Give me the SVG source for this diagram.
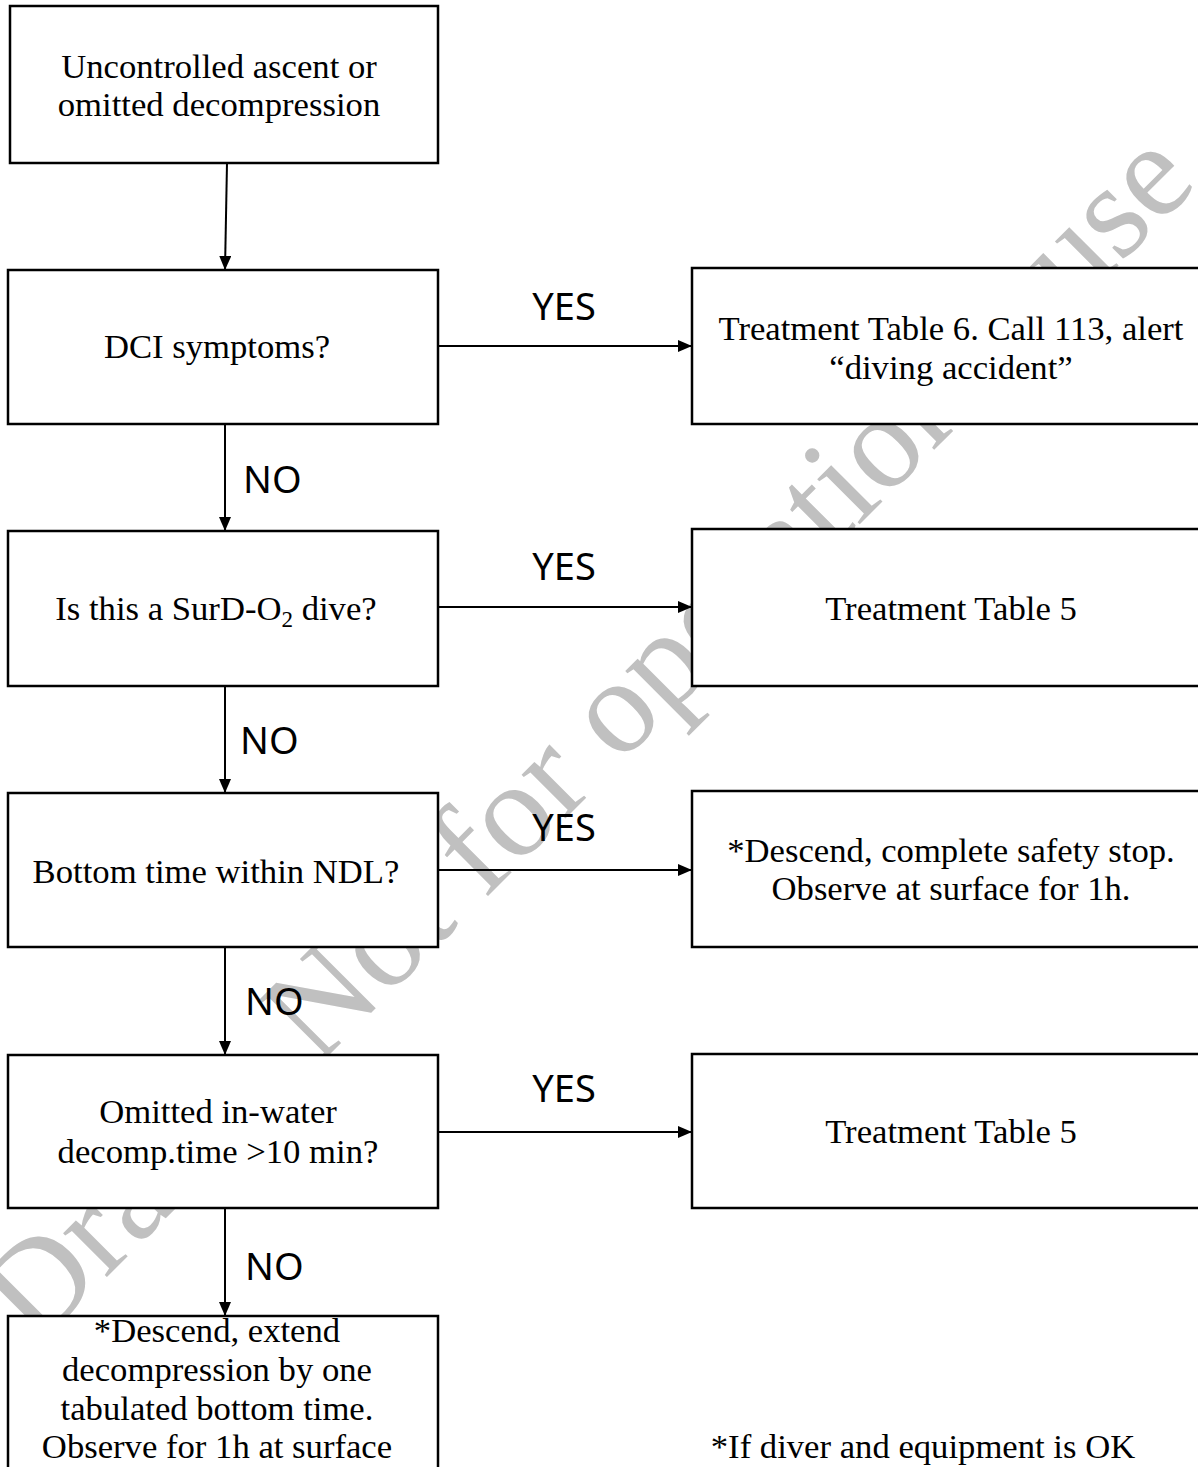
<svg xmlns="http://www.w3.org/2000/svg" width="1198" height="1467" viewBox="0 0 1198 1467">
<style>
.box{fill:#fff;stroke:#000;stroke-width:2.5}
.t{font-family:"Liberation Serif","Times New Roman",serif;font-size:34.67px;fill:#000;text-anchor:middle}
.lbl{font-family:"Noto Sans","Open Sans",sans-serif;font-size:38px;fill:#000}
.conn{stroke:#000;stroke-width:2;fill:none;marker-end:url(#arr)}
.wm{font-family:"Liberation Serif","Times New Roman",serif;font-size:135px;fill:#c0c0c0}
</style>
<defs>
<marker id="arr" markerUnits="userSpaceOnUse" markerWidth="14" markerHeight="12" refX="14" refY="6" orient="auto">
<path d="M0,0 L14,6 L0,12 z" fill="#000"/>
</marker>
</defs>
<rect width="1198" height="1467" fill="#fff"/>
<text class="wm" transform="translate(36,1348) rotate(-45)">Draft - Not for operational use</text>

<g id="connectors">
<line class="conn" x1="227" y1="163" x2="225" y2="270"/>
<line class="conn" x1="225" y1="424" x2="225" y2="531"/>
<line class="conn" x1="225" y1="686" x2="225" y2="793"/>
<line class="conn" x1="225" y1="947" x2="225" y2="1055"/>
<line class="conn" x1="225" y1="1208" x2="225" y2="1316"/>
<line class="conn" x1="438" y1="346" x2="692" y2="346"/>
<line class="conn" x1="438" y1="607" x2="692" y2="607"/>
<line class="conn" x1="438" y1="870" x2="692" y2="870"/>
<line class="conn" x1="438" y1="1132" x2="692" y2="1132"/>
<text class="lbl" x="564" y="320" text-anchor="middle">YES</text>
<text class="lbl" x="564" y="580" text-anchor="middle">YES</text>
<text class="lbl" x="564" y="841" text-anchor="middle">YES</text>
<text class="lbl" x="564" y="1102" text-anchor="middle">YES</text>
<text class="lbl" x="243" y="493">NO</text>
<text class="lbl" x="240" y="754">NO</text>
<text class="lbl" x="245" y="1015">NO</text>
<text class="lbl" x="245" y="1280">NO</text>
</g>

<g id="start">
<rect class="box" x="10" y="6" width="428" height="157"/>
<text class="t" x="219" y="78">Uncontrolled ascent or</text>
<text class="t" x="219" y="116">omitted decompression</text>
</g>
<g id="dci">
<rect class="box" x="8" y="270" width="430" height="154"/>
<text class="t" x="217" y="358">DCI symptoms?</text>
</g>
<g id="tt6">
<rect class="box" x="692" y="268" width="518" height="156"/>
<text class="t" x="951" y="340">Treatment Table 6. Call 113, alert</text>
<text class="t" x="951" y="379">“diving accident”</text>
</g>
<g id="surd">
<rect class="box" x="8" y="531" width="430" height="155"/>
<text class="t" x="216" y="620">Is this a SurD-O<tspan font-size="23" dy="7">2</tspan><tspan dy="-7"> dive?</tspan></text>
</g>
<g id="tt5a">
<rect class="box" x="692" y="529" width="518" height="157"/>
<text class="t" x="951" y="620">Treatment Table 5</text>
</g>
<g id="ndl">
<rect class="box" x="8" y="793" width="430" height="154"/>
<text class="t" x="216" y="883">Bottom time within NDL?</text>
</g>
<g id="safety">
<rect class="box" x="692" y="791" width="518" height="156"/>
<text class="t" x="951" y="862">*Descend, complete safety stop.</text>
<text class="t" x="951" y="900">Observe at surface for 1h.</text>
</g>
<g id="omitted">
<rect class="box" x="8" y="1055" width="430" height="153"/>
<text class="t" x="218" y="1123">Omitted in-water</text>
<text class="t" x="218" y="1163">decomp.time &gt;10 min?</text>
</g>
<g id="tt5b">
<rect class="box" x="692" y="1054" width="518" height="154"/>
<text class="t" x="951" y="1143">Treatment Table 5</text>
</g>
<g id="extend">
<rect class="box" x="8" y="1316" width="430" height="170"/>
<text class="t" x="217" y="1342">*Descend, extend</text>
<text class="t" x="217" y="1381">decompression by one</text>
<text class="t" x="217" y="1420">tabulated bottom time.</text>
<text class="t" x="217" y="1458">Observe for 1h at surface</text>
</g>
<g id="footnote">
<text class="t" x="923" y="1458">*If diver and equipment is OK</text>
</g>
</svg>
